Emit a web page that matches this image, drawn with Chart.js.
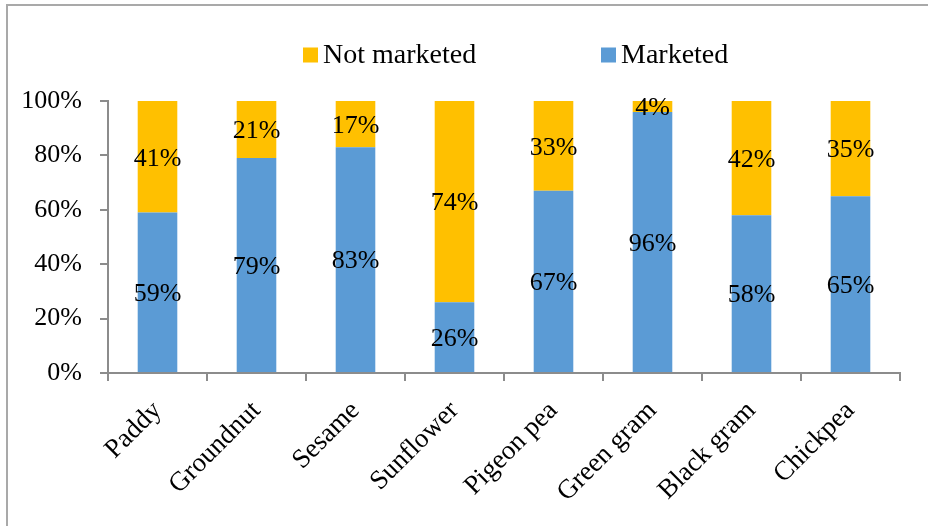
<!DOCTYPE html>
<html>
<head>
<meta charset="utf-8">
<script src="https://cdn.jsdelivr.net/npm/chart.js@4.4.1/dist/chart.umd.min.js"></script>
<style>
  html, body { margin: 0; padding: 0; background: #fff; overflow: hidden; }
  #wrap { position: relative; width: 928px; height: 526px; }
  #frame { position: absolute; left: 6px; top: 4px; width: 960px; height: 560px;
           border-left: 2px solid #a9a9a9; border-top: 2px solid #a9a9a9; }
  canvas { position: absolute; left: 0; top: 0; }
</style>
</head>
<body>
<div id="wrap">
  <div id="frame"></div>
  <canvas id="myChart" width="928" height="526"></canvas>
</div>
<script>
const crops = ['Paddy', 'Groundnut', 'Sesame', 'Sunflower', 'Pigeon pea', 'Green gram', 'Black gram', 'Chickpea'];
const marketed = [59, 79, 83, 26, 67, 96, 58, 65];
const notMarketed = [41, 21, 17, 74, 33, 4, 42, 35];
const yTicks = [0, 20, 40, 60, 80, 100];

const blue = '#5b9bd5';
const yellow = '#ffc000';
const axisGray = '#8c8c8c';
const serif = "'Liberation Serif', 'Times New Roman', serif";

Chart.defaults.font.family = serif;
Chart.defaults.font.size = 26;
Chart.defaults.color = '#000';

// value labels in the middle of each bar segment
const segmentLabels = {
  id: 'segmentLabels',
  afterDatasetsDraw(chart) {
    const ctx = chart.ctx;
    ctx.save();
    ctx.font = '26px ' + serif;
    ctx.fillStyle = '#000';
    ctx.textAlign = 'center';
    ctx.textBaseline = 'middle';
    chart.data.datasets.forEach(function(ds, i) {
      chart.getDatasetMeta(i).data.forEach(function(bar, j) {
        const c = bar.getCenterPoint();
        ctx.fillText(ds.data[j] + '%', c.x, c.y + 2);
      });
    });
    ctx.restore();
  }
};

// legend drawn above the plot: Not marketed first, then Marketed
const topLegend = {
  id: 'topLegend',
  afterDraw(chart) {
    const ctx = chart.ctx;
    const area = chart.chartArea;
    const items = chart.data.datasets.slice().reverse();
    const box = 15;
    let x = area.left + 195;
    const y = 55;
    ctx.save();
    ctx.font = '28px ' + serif;
    ctx.textBaseline = 'middle';
    ctx.textAlign = 'left';
    items.forEach(function(ds) {
      ctx.fillStyle = ds.backgroundColor;
      ctx.fillRect(x, y - box / 2, box, box);
      ctx.fillStyle = '#000';
      ctx.fillText(ds.label, x + box + 5, y + 1);
      x += 298;
    });
    ctx.restore();
  }
};

const ctx = document.getElementById('myChart').getContext('2d');
const chart = new Chart(ctx, {
  type: 'bar',
  data: {
    labels: crops,
    datasets: [
      { label: 'Marketed', data: marketed, backgroundColor: blue, borderWidth: 0 },
      { label: 'Not marketed', data: notMarketed, backgroundColor: yellow, borderWidth: 0 }
    ]
  },
  options: {
    responsive: false,
    animation: false,
    devicePixelRatio: 1,
    layout: { padding: { top: 101, right: 28, bottom: 0, left: 0 } },
    datasets: { bar: { categoryPercentage: 1, barPercentage: 0.4 } },
    plugins: {
      legend: { display: false },
      tooltip: { enabled: false }
    },
    scales: {
      x: {
        stacked: true,
        afterFit: function(scale) { scale.height = 153; },
        grid: { offset: true, drawOnChartArea: false, drawTicks: true, tickLength: 8, color: axisGray, lineWidth: 2 },
        border: { display: true, color: axisGray, width: 2 },
        ticks: { autoSkip: false, minRotation: 45, maxRotation: 45, padding: 14, font: { size: 27 } }
      },
      y: {
        stacked: true,
        min: 0,
        max: 100,
        afterFit: function(scale) { scale.width = 108; },
        afterBuildTicks: function(scale) {
          scale.ticks = yTicks.map(function(v) { return { value: v }; });
        },
        grid: { drawOnChartArea: false, drawTicks: true, tickLength: 8, color: axisGray, lineWidth: 2 },
        border: { display: true, color: axisGray, width: 2 },
        ticks: {
          padding: 18,
          font: { size: 26 },
          callback: function(v) { return v + '%'; }
        }
      }
    }
  },
  plugins: [segmentLabels, topLegend]
});
</script>
</body>
</html>
